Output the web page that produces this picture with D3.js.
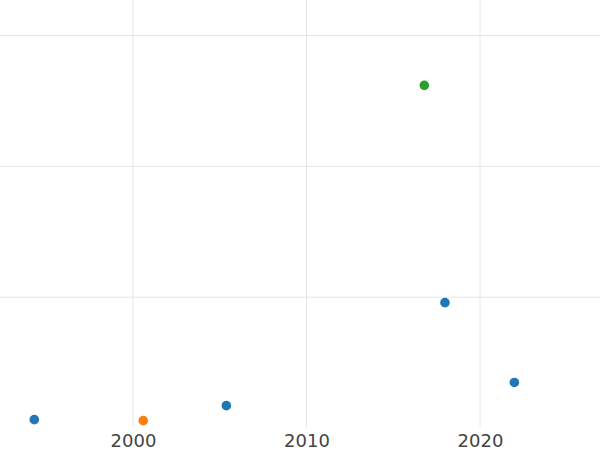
<!DOCTYPE html>
<html><head><meta charset="utf-8">
<script src="https://cdn.jsdelivr.net/npm/d3@7"></script>
<style>html,body{margin:0;padding:0;background:#fff;}svg{display:block;}</style>
</head><body>
<svg id="chart" width="600" height="450"></svg>
<script>
const years = [1994.31, 2000.59, 2005.38, 2016.79, 2017.98, 2021.98];
const values = [0.064, 0.056, 0.171, 2.619, 0.958, 0.348];
const groups = ["A", "B", "A", "C", "A", "A"];
const groupNames = ["A", "B", "C"];
const groupColors = ["#1f77b4", "#ff7f0e", "#2ca02c"];
const xTicks = [2000, 2010, 2020];
const yTicks = [1, 2, 3];

const svg = d3.select("#chart");
const x = d3.scaleLinear().domain([2000, 2020]).range([133, 480]);
const y = d3.scaleLinear().domain([0, 3]).range([428, 35.5]);
const color = d3.scaleOrdinal().domain(groupNames).range(groupColors);
const plotBottom = 427;

svg.append("g").selectAll("line").data(yTicks).join("line")
  .attr("x1", 0).attr("x2", 600)
  .attr("y1", d => y(d)).attr("y2", d => y(d))
  .attr("stroke", "#e6e6e6").attr("stroke-width", 1);

svg.append("g").selectAll("line").data(xTicks).join("line")
  .attr("x1", d => x(d)).attr("x2", d => x(d))
  .attr("y1", 0).attr("y2", plotBottom)
  .attr("stroke", "#e6e6e6").attr("stroke-width", 1);

const xAxis = svg.append("g").attr("transform", `translate(0,${plotBottom})`)
  .call(d3.axisBottom(x).tickValues(xTicks).tickFormat(d3.format("d")).tickSize(0).tickPadding(7));
xAxis.select(".domain").remove();
xAxis.selectAll("text").attr("font-family", "DejaVu Sans, sans-serif")
  .attr("font-size", 18).attr("fill", "#444");

svg.append("g").selectAll("circle").data(years.map((d, i) => i)).join("circle")
  .attr("cx", i => x(years[i])).attr("cy", i => y(values[i]))
  .attr("r", 4.8).attr("fill", i => color(groups[i]));
</script>
</body></html>
